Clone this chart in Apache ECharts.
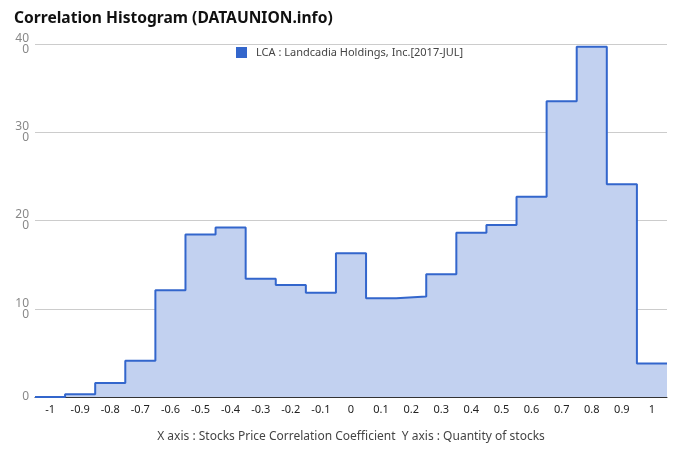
<!DOCTYPE html>
<html>
<head>
<meta charset="utf-8">
<script src="https://cdn.jsdelivr.net/npm/echarts@6/dist/echarts.min.js"></script>
<style>html,body{margin:0;padding:0;background:#fff}#c{width:680px;height:462px}</style>
</head>
<body>
<div id="c"></div>
<script>
var binCenters = [-1, -0.9, -0.8, -0.7, -0.6, -0.5, -0.4, -0.3, -0.2, -0.1, 0, 0.1, 0.2, 0.3, 0.4, 0.5, 0.6, 0.7, 0.8, 0.9, 1];
var counts = [0, 3, 16, 41, 121, 184, 192, 134, 127, 118, 163, 112, 114, 139, 186, 195, 227, 335, 397, 241, 38];
var binWidth = 0.1;
var seriesName = 'LCA : Landcadia Holdings, Inc.[2017-JUL]';
var titleText = 'Correlation Histogram (DATAUNION.info)';
var axisNameText = 'X axis : Stocks Price Correlation Coefficient  Y axis : Quantity of stocks';

var stepData = binCenters.map(function (c, i) { return [c - binWidth / 2, counts[i]]; });
stepData.push([binCenters[binCenters.length - 1] + binWidth / 2, counts[counts.length - 1]]);

var chart = echarts.init(document.getElementById('c'), null, {renderer: 'canvas'});
chart.setOption({
  animation: false,
  title: {
    text: titleText, left: 9, top: 6,
    textStyle: {fontFamily: 'Noto Sans', fontSize: 15.6, fontWeight: 'bold', color: '#111'}
  },
  legend: {
    data: [seriesName], top: 42, left: 231,
    itemWidth: 11, itemHeight: 11, itemGap: 8,
    icon: 'rect',
    textStyle: {fontFamily: 'Noto Sans', fontSize: 11, color: '#444', padding: [0, 0, 0, 4]}
  },
  grid: {left: 35, right: 13, top: 44, bottom: 65, containLabel: false},
  xAxis: {
    type: 'value', min: -1.05, max: 1.05, interval: 0.05,
    axisLine: {show: true, onZero: false, lineStyle: {color: '#333', width: 1}},
    axisTick: {show: false},
    splitLine: {show: false},
    axisLabel: {
      color: '#222', fontFamily: 'Noto Sans', fontSize: 11, margin: 7,
      showMinLabel: true, showMaxLabel: true,
      formatter: function (v) {
        var k = Math.round(v * 100);
        if (k % 10 !== 0) return '';
        return String(k / 100);
      }
    },
    name: axisNameText, nameLocation: 'middle', nameGap: 34,
    nameTextStyle: {color: '#444', fontFamily: 'Noto Sans', fontSize: 12}
  },
  yAxis: {
    type: 'value', min: 0, max: 400, interval: 100,
    axisLine: {show: false}, axisTick: {show: false},
    splitLine: {lineStyle: {color: '#ccc', width: 1}},
    axisLabel: {
      color: '#888', fontFamily: 'Noto Sans', fontSize: 12, margin: 6, lineHeight: 11,
      formatter: function (v) {
        var s = String(v);
        return s.length > 2 ? s.slice(0, 2) + '\n' + s.slice(2) : s;
      }
    }
  },
  series: [{
    name: seriesName, type: 'line', step: 'end', data: stepData,
    symbol: 'none', color: '#3366cc',
    lineStyle: {color: '#3366cc', width: 2},
    areaStyle: {color: '#c2d1f0', opacity: 1, origin: 'start'}
  }]
});
</script>
</body>
</html>
